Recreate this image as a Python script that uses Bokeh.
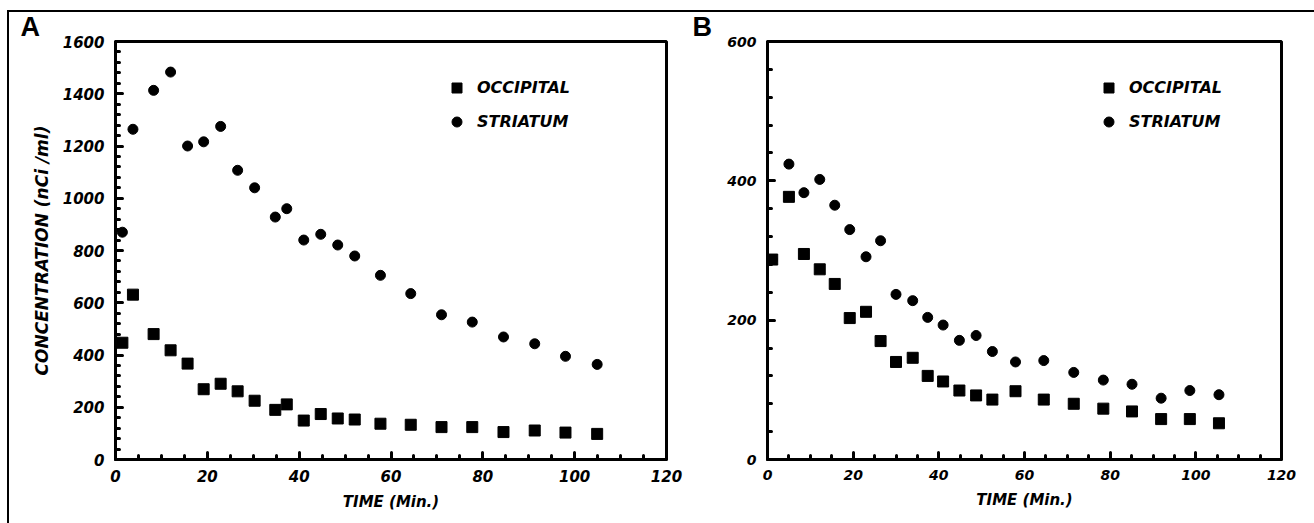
from bokeh.plotting import figure
from bokeh.models import (Range1d, FixedTicker, Legend, LegendItem, Title)
from bokeh.layouts import row
from bokeh.embed import file_html
from bokeh.resources import INLINE

# ---------------- data ----------------
time_a = [1.5, 3.8, 8.3, 12.0, 15.7, 19.2, 22.9, 26.6, 30.3, 34.8, 37.3, 41.0,
          44.7, 48.4, 52.1, 57.7, 64.3, 71.0, 77.7, 84.5, 91.3, 98.0, 104.9]
occipital_a = [447, 631, 480, 418, 367, 269, 290, 261, 225, 190, 211, 149,
               174, 157, 153, 137, 133, 124, 124, 105, 111, 103, 98]
striatum_a = [870, 1264, 1413, 1483, 1200, 1216, 1275, 1107, 1040, 928, 960, 840,
              862, 821, 779, 705, 635, 554, 526, 469, 443, 395, 364]

time_b = [1.1, 5.0, 8.5, 12.2, 15.7, 19.2, 23.0, 26.4, 30.0, 33.9, 37.4, 41.0,
          44.8, 48.7, 52.5, 57.9, 64.5, 71.5, 78.4, 85.1, 91.9, 98.6, 105.4]
occipital_b = [287, 377, 295, 273, 252, 203, 212, 170, 140, 146, 120, 112,
               99, 92, 86, 98, 86, 80, 73, 69, 58, 58, 52]
striatum_b = [287, 424, 383, 402, 365, 330, 291, 314, 237, 228, 204, 193,
              171, 178, 155, 140, 142, 125, 114, 108, 88, 99, 93]

x_ticks = [0, 20, 40, 60, 80, 100, 120]
x_minor = [v for v in range(0, 121, 5) if v % 20 != 0]
y_ticks_a = [0, 200, 400, 600, 800, 1000, 1200, 1400, 1600]
y_minor_a = [v for v in range(0, 1601, 40) if v % 200 != 0]
y_ticks_b = [0, 200, 400, 600]
y_minor_b = [v for v in range(0, 601, 40) if v % 200 != 0]

x_label = "TIME (Min.)"
y_label = "CONCENTRATION (nCi /ml)"
series_names = ["OCCIPITAL", "STRIATUM"]
panel_letters = ["A", "B"]

FONT = "DejaVu Sans"


def style_axes(p, label_size):
    for ax in (p.xaxis[0], p.yaxis[0]):
        ax.axis_line_width = 3
        ax.axis_line_color = "black"
        ax.major_tick_in = 7
        ax.major_tick_out = 0
        ax.minor_tick_in = 4
        ax.minor_tick_out = 0
        ax.major_tick_line_width = 3
        ax.minor_tick_line_width = 3
        ax.major_tick_line_cap = "round"
        ax.minor_tick_line_cap = "round"
        ax.major_tick_line_color = "black"
        ax.minor_tick_line_color = "black"
        ax.major_label_text_font = FONT
        ax.major_label_text_font_style = "bold italic"
        ax.major_label_text_font_size = label_size
        ax.major_label_text_color = "black"
        ax.axis_label_text_font = FONT
        ax.axis_label_text_font_style = "bold italic"
        ax.axis_label_text_color = "black"
    p.xaxis[0].major_label_standoff = 10
    p.yaxis[0].major_label_standoff = 11
    p.grid.visible = False
    p.outline_line_color = "black"
    p.outline_line_width = 3
    p.background_fill_color = "white"
    p.border_fill_alpha = 0


def make_panel(width, ymax, yt, ymn, t, occ, stri, border_left, border_right,
               border_bottom, label_size, letter, letter_offset, ylabel):
    title = Title(text=letter, align="left", offset=letter_offset, standoff=0,
                  text_font="Liberation Sans", text_font_style="bold",
                  text_font_size="27px", text_color="black")
    p = figure(width=width, height=514, output_backend="svg", toolbar_location=None,
               x_range=Range1d(0, 120), y_range=Range1d(0, ymax),
               min_border_left=border_left, min_border_right=border_right,
               min_border_top=29, min_border_bottom=border_bottom, title=title)
    p.margin = (-3, 0, 0, 0)
    p.xaxis.ticker = FixedTicker(ticks=x_ticks, minor_ticks=x_minor)
    p.yaxis.ticker = FixedTicker(ticks=yt, minor_ticks=ymn)
    style_axes(p, label_size)
    p.xaxis.axis_label = x_label
    p.xaxis.axis_label_text_font_size = "15px"
    p.xaxis.axis_label_standoff = 8
    if ylabel:
        p.yaxis.axis_label = ylabel
        p.yaxis.axis_label_text_font_size = "17px"
        p.yaxis.axis_label_standoff = 8

    r_occ = p.scatter(t, occ, marker="square", size=11, color="black")
    r_str = p.scatter(t, stri, marker="circle", size=10, color="black")

    legend = Legend(items=[LegendItem(label=series_names[0], renderers=[r_occ]),
                           LegendItem(label=series_names[1], renderers=[r_str])],
                    location=(329, 325), border_line_color=None,
                    background_fill_alpha=0, padding=0, margin=0, spacing=9,
                    glyph_width=25, glyph_height=25, label_height=25,
                    label_standoff=8, label_text_font=FONT,
                    label_text_font_style="bold italic",
                    label_text_font_size="16px", label_text_color="black")
    p.add_layout(legend)
    return p


pA = make_panel(680, 1600, y_ticks_a, y_minor_a, time_a, occipital_a, striatum_a,
                106, 23, 64, "15px", panel_letters[0], -95, y_label)
pB = make_panel(625, 600, y_ticks_b, y_minor_b, time_b, occipital_b, striatum_b,
                78, 33, 63, "14px", panel_letters[1], -75, None)

layout = row(pA, pB, styles={"border-top": "2px solid black",
                             "border-left": "2px solid black"})
layout.margin = (10, 0, 0, 7)

open("out.html", "w").write(file_html(layout, INLINE))
